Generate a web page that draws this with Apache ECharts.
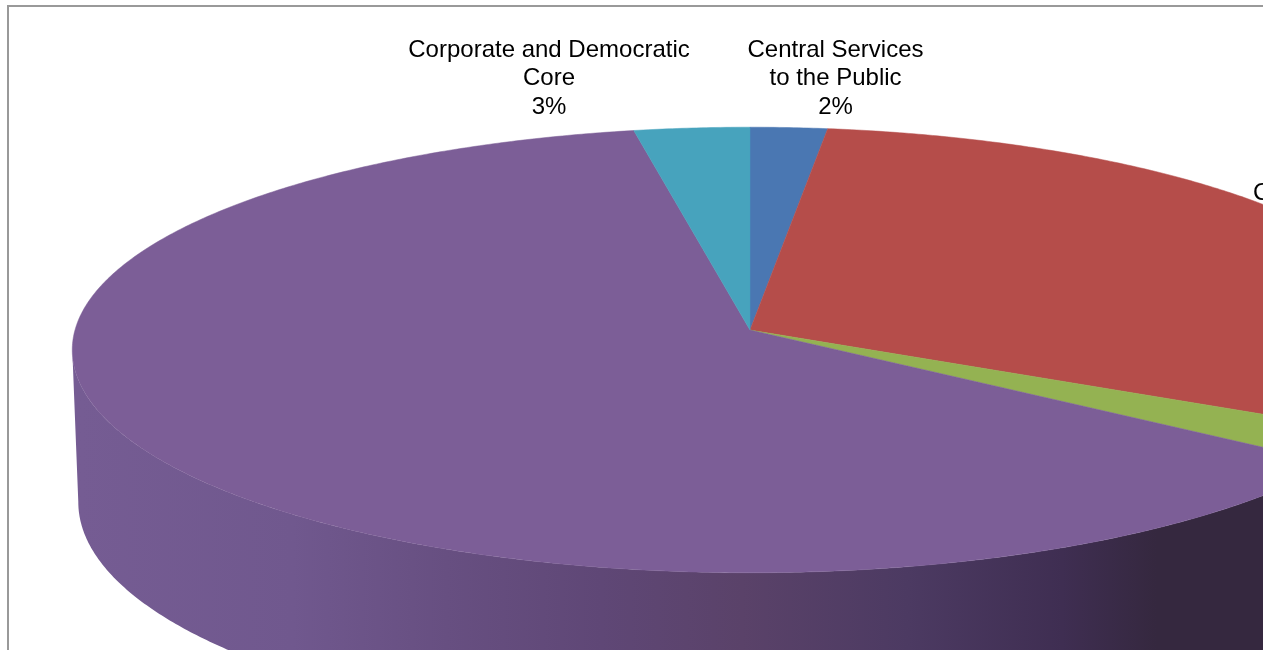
<!DOCTYPE html>
<html>
<head>
<meta charset="utf-8">
<style>
  html, body { margin: 0; padding: 0; background: #fff; }
  #chart { width: 1263px; height: 650px; }
</style>
<script src="https://cdn.jsdelivr.net/npm/echarts@6/dist/echarts.min.js"></script>
</head>
<body>
<div id="chart"></div>
<script>
// Budget shares, clockwise from twelve o'clock (percent of the whole pie).
const categories = ['Central Services\nto the Public', 'C', '', '', 'Corporate and Democratic\nCore'];
const shares = [2, 30.4, 2.3, 62.3, 3];
const showShare = [true, false, false, false, true];
const sliceColors = ['#4a77b2', '#b54d4a', '#94b252', '#7c5e97', '#47a3bd'];

// Where each visible label sits (top centre of the text block).
const labelAnchors = [[835.5, 36], [1253, 179], null, null, [549, 36]];

// Perspective view of the disc: top face, and the lower face that closes the wall.
const tilt = 0.0897;
const topFace = { cx: 750, cy: 330, rx: 675, ry: 221 };
const lowFace = { cx: 750, cy: 481, rx: 669, ry: 233 };
const wallStops = [
  { offset: 0, color: '#755c93' },
  { offset: 0.18, color: '#70588e' },
  { offset: 0.31, color: '#674f81' },
  { offset: 0.44, color: '#5f4776' },
  { offset: 0.56, color: '#5a4269' },
  { offset: 0.70, color: '#4c3a62' },
  { offset: 0.83, color: '#3f2e52' },
  { offset: 0.91, color: '#35283f' },
  { offset: 1, color: '#35283f' }
];

// Percent of the circle (clockwise from the top) to a point on a projected face.
function project(face, pct) {
  const a = pct / 100 * 2 * Math.PI;
  const u = Math.sin(a), v = -Math.cos(a);
  const w = 1 - tilt * v;
  return [face.cx + face.rx * u / w, face.cy + face.ry * v / w];
}

function rim(face, from, to) {
  const pts = [];
  const steps = Math.max(2, Math.ceil((to - from) * 8));
  for (let i = 0; i <= steps; i++) pts.push(project(face, from + (to - from) * i / steps));
  return pts;
}

let running = 0;
const sliceData = shares.map((s, i) => {
  const item = { name: categories[i], value: [running, running + s, i] };
  running += s;
  return item;
});

// The wall shows between the two silhouette points of the projected disc.
const WALL_FROM = 26.4, WALL_TO = 73.6;

function renderWall(params, api) {
  const from = Math.max(api.value(0), WALL_FROM);
  const to = Math.min(api.value(1), WALL_TO);
  if (to <= from) return { type: 'group', children: [] };
  const points = rim(topFace, from, to).concat(rim(lowFace, from, to).reverse());
  return {
    type: 'polygon',
    shape: { points },
    style: {
      fill: { type: 'linear', x: 80, y: 0, x2: 1263, y2: 0, global: true, colorStops: wallStops }
    }
  };
}

function renderSlice(params, api) {
  const i = api.value(2);
  const points = [[topFace.cx, topFace.cy]].concat(rim(topFace, api.value(0), api.value(1)));
  return {
    type: 'polygon',
    shape: { points },
    style: { fill: sliceColors[i], stroke: sliceColors[i], lineWidth: 0.5 }
  };
}

function renderLabel(params, api) {
  const i = api.value(2);
  const at = labelAnchors[i];
  if (!at) return { type: 'group', children: [] };
  return {
    type: 'text',
    style: {
      x: at[0],
      y: at[1],
      text: showShare[i] ? categories[i] + '\n' + Math.round(shares[i]) + '%' : categories[i],
      align: showShare[i] ? 'center' : 'left',
      verticalAlign: 'top',
      fontFamily: '"Liberation Sans", Arial, sans-serif',
      fontSize: 24,
      lineHeight: 28.5,
      fill: '#000'
    }
  };
}

const chart = echarts.init(document.getElementById('chart'));
chart.setOption({
  animation: false,
  backgroundColor: '#fff',
  graphic: [{
    type: 'rect',
    z: -1,
    shape: { x: 8, y: 6, width: 2000, height: 2000 },
    style: { fill: 'none', stroke: '#999', lineWidth: 2 }
  }],
  series: [
    { type: 'custom', coordinateSystem: 'none', data: sliceData, renderItem: renderWall, silent: true, clip: false, z: 1 },
    { type: 'custom', coordinateSystem: 'none', data: sliceData, renderItem: renderSlice, silent: true, clip: false, z: 2 },
    { type: 'custom', coordinateSystem: 'none', data: sliceData, renderItem: renderLabel, silent: true, clip: false, z: 3 }
  ]
});
</script>
</body>
</html>
